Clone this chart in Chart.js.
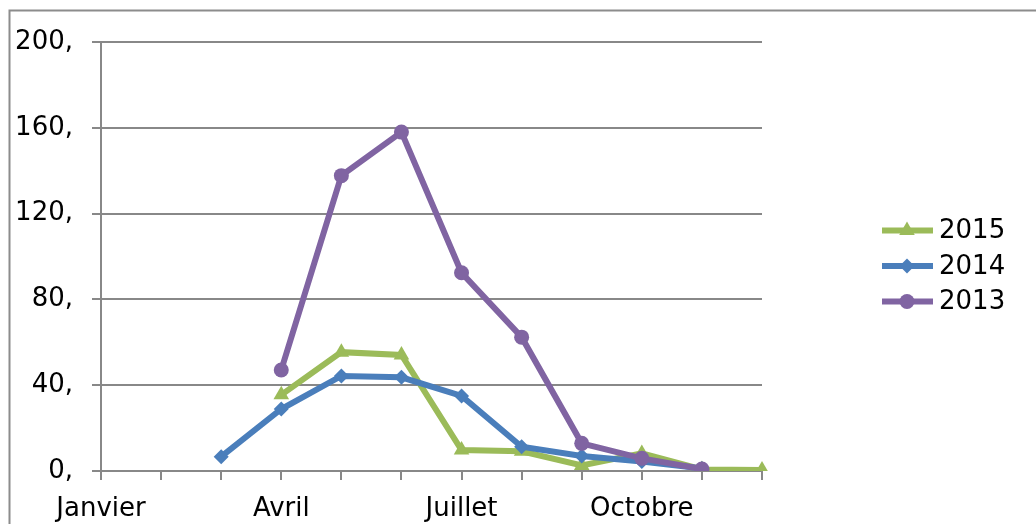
<!DOCTYPE html>
<html>
<head>
<meta charset="utf-8">
<script src="https://cdn.jsdelivr.net/npm/chart.js@4"></script>
<style>
	body { margin: 0; background: #fff; }
	#wrap { position: relative; width: 1036px; height: 524px; }
</style>
</head>
<body>
<div id="wrap"><canvas id="chart" width="1036" height="524"></canvas></div>
<script>
const months = ['Janvier', 'Février', 'Mars', 'Avril', 'Mai', 'Juin', 'Juillet', 'Août', 'Septembre', 'Octobre', 'Novembre', 'Décembre']
const yTicks = [0, 40, 80, 120, 160, 200]

const values2013 = [null, null, null, 47.1, 137.7, 158, 92.4, 62.4, 12.9, 5.9, 0.9, null]
const values2014 = [null, null, 6.7, 28.9, 44.3, 43.7, 35, 11.3, 7, 4.4, 1.2, null]
const values2015 = [null, null, null, 35.5, 55.4, 54.1, 9.8, 9.2, 2.6, 8.2, 0.7, 0.5]

const FONT = { family: '"DejaVu Sans", Verdana, sans-serif', size: 26 }
const GRID = '#888888'

// frame lines + excel-like legend (line with marker in the middle)
const decor = {
	id: 'decor',
	beforeDraw(chart) {
		const ctx = chart.ctx
		ctx.save()
		ctx.strokeStyle = '#8c8c8c'
		ctx.lineWidth = 2
		ctx.beginPath()
		ctx.moveTo(9.5, 524)
		ctx.lineTo(9.5, 10.5)
		ctx.lineTo(1036, 10.5)
		ctx.stroke()
		ctx.restore()
	},
	afterDraw(chart) {
		const ctx = chart.ctx
		const x0 = chart.chartArea.right + 120
		let y = 230.5
		const sets = chart.data.datasets.slice().reverse()
		ctx.save()
		sets.forEach((ds) => {
			ctx.strokeStyle = ds.borderColor
			ctx.lineWidth = ds.borderWidth
			ctx.beginPath()
			ctx.moveTo(x0, y)
			ctx.lineTo(x0 + 51, y)
			ctx.stroke()
			ctx.fillStyle = ds.borderColor
			Chart.helpers.drawPoint(ctx, {
				pointStyle: ds.pointStyle,
				rotation: 0,
				radius: ds.pointRadius,
				borderWidth: 0,
			}, x0 + 25, y)
			ctx.fillStyle = '#000'
			ctx.font = `${FONT.size}px ${FONT.family}`
			ctx.textBaseline = 'middle'
			ctx.textAlign = 'left'
			ctx.fillText(ds.label, x0 + 57, y + 1)
			y += 35.5
		})
		ctx.restore()
	},
}

function makeSet(label, data, color, style, radius) {
	return {
		label: label,
		data: data,
		borderColor: color,
		backgroundColor: color,
		borderWidth: 6,
		pointStyle: style,
		pointRadius: radius,
		pointBorderWidth: 0,
		pointBackgroundColor: color,
		tension: 0,
		spanGaps: false,
	}
}

new Chart(document.getElementById('chart'), {
	type: 'line',
	data: {
		labels: months,
		datasets: [
			makeSet('2013', values2013, '#8064A2', 'circle', 7.5),
			makeSet('2014', values2014, '#4A7EBB', 'rectRot', 7.5),
			makeSet('2015', values2015, '#9BBB59', 'triangle', 9),
		],
	},
	options: {
		responsive: false,
		animation: false,
		layout: { padding: { top: 42, right: 274, bottom: 0, left: 0 } },
		plugins: { legend: { display: false }, tooltip: { enabled: false } },
		scales: {
			x: {
				offset: false,
				grid: { drawOnChartArea: false, color: GRID, lineWidth: 2, tickLength: 9 },
				border: { color: GRID, width: 2 },
				ticks: {
					autoSkip: false,
					maxRotation: 0,
					padding: 14,
					color: '#000',
					font: FONT,
					callback: (v, i) => (i % 3 === 0 ? months[i] : ''),
				},
				afterFit: (scale) => { scale.height = 53 },
			},
			y: {
				min: yTicks[0],
				max: yTicks[yTicks.length - 1],
				afterBuildTicks: (scale) => { scale.ticks = yTicks.map((v) => ({ value: v })) },
				grid: { color: GRID, lineWidth: 2, tickLength: 9 },
				border: { color: GRID, width: 2 },
				ticks: {
					padding: 19,
					color: '#000',
					font: FONT,
					callback: (v) => v + ',',
				},
				afterFit: (scale) => { scale.width = 101 },
			},
		},
	},
	plugins: [decor],
})
</script>
</body>
</html>
